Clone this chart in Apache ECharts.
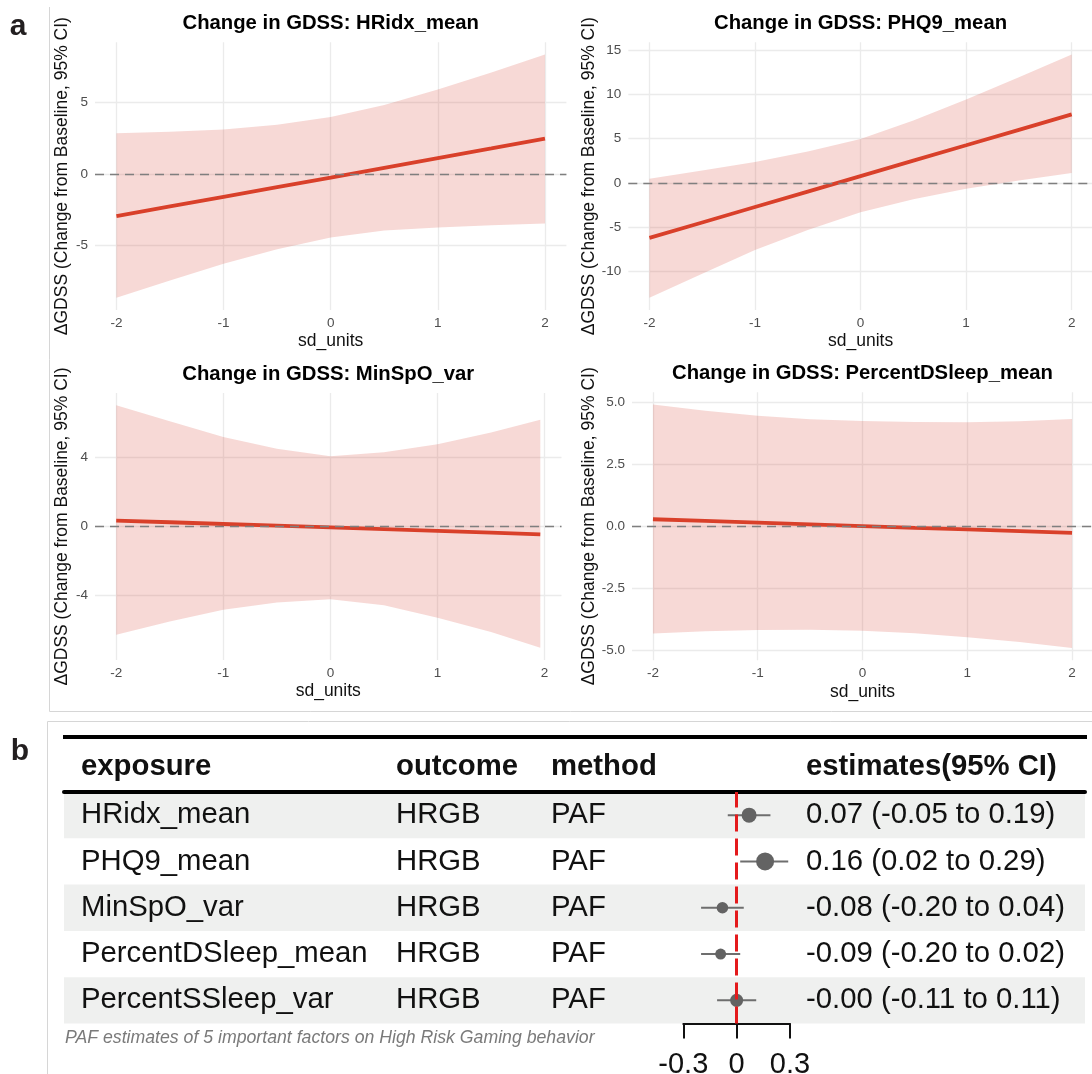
<!DOCTYPE html>
<html>
<head>
<meta charset="utf-8">
<script src="https://cdn.jsdelivr.net/npm/echarts@6/dist/echarts.min.js"></script>
<style>
html,body{margin:0;padding:0;background:#fff;}
#chart{width:1092px;height:1074px;}
</style>
</head>
<body>
<div id="chart"></div>
<script>
// ---------------- DATA ----------------
// panel a: predicted change in GDSS per sd unit, with 95% CI ribbon
const sdUnits = [-2, -1.5, -1, -0.5, 0, 0.5, 1, 1.5, 2];
const sdUnitsMinSpO = [-2, -1.5, -1, -0.5, 0, 0.5, 1, 1.5, 1.96];

const hrFit = [-2.95, -2.27, -1.60, -0.93, -0.26, 0.42, 1.10, 1.77, 2.45];
const hrLo  = [-8.63, -7.42, -6.25, -5.25, -4.43, -3.95, -3.73, -3.57, -3.46];
const hrHi  = [2.83, 2.93, 3.08, 3.42, 3.96, 4.80, 5.88, 7.05, 8.31];

const phqFit = [-6.24, -4.49, -2.74, -0.99, 0.76, 2.51, 4.25, 6.00, 7.75];
const phqLo  = [-13.02, -10.30, -7.60, -5.35, -3.33, -1.85, -0.68, 0.25, 1.10];
const phqHi  = [0.45, 1.40, 2.35, 3.55, 4.96, 7.05, 9.42, 11.95, 14.53];

const minFit = [0.35, 0.25, 0.15, 0.05, -0.05, -0.15, -0.25, -0.35, -0.45];
const minLo  = [-6.26, -5.50, -4.81, -4.40, -4.20, -4.55, -5.27, -6.10, -7.02];
const minHi  = [7.03, 6.10, 5.19, 4.50, 4.07, 4.30, 4.77, 5.45, 6.18];

const pdsFit = [0.30, 0.23, 0.16, 0.09, 0.02, -0.05, -0.11, -0.18, -0.25];
const pdsLo  = [-4.31, -4.22, -4.17, -4.16, -4.20, -4.30, -4.46, -4.65, -4.90];
const pdsHi  = [4.93, 4.68, 4.48, 4.33, 4.26, 4.22, 4.21, 4.25, 4.34];

const panelTitles = ['Change in GDSS: HRidx_mean', 'Change in GDSS: PHQ9_mean',
                     'Change in GDSS: MinSpO_var', 'Change in GDSS: PercentDSleep_mean'];
const xTicks = [-2, -1, 0, 1, 2];
const yTicksHR = [-5, 0, 5];
const yTicksPHQ = [-10, -5, 0, 5, 10, 15];
const yTicksMin = [-4, 0, 4];
const yTicksPDS = [-5, -2.5, 0, 2.5, 5];
const xAxisTitle = 'sd_units';
const yAxisTitle = 'ΔGDSS (Change from Baseline, 95% CI)';

// panel b: PAF forest table
const exposures = ['HRidx_mean', 'PHQ9_mean', 'MinSpO_var', 'PercentDSleep_mean', 'PercentSSleep_var'];
const outcomes = ['HRGB', 'HRGB', 'HRGB', 'HRGB', 'HRGB'];
const methods = ['PAF', 'PAF', 'PAF', 'PAF', 'PAF'];
const pafEst = [0.07, 0.16, -0.08, -0.09, -0.00];
const pafLo = [-0.05, 0.02, -0.20, -0.20, -0.11];
const pafHi = [0.19, 0.29, 0.04, 0.02, 0.11];
const pafWeight = [1.0, 1.2, 0.77, 0.73, 0.87];
const estLabels = ['0.07 (-0.05 to 0.19)', '0.16 (0.02 to 0.29)', '-0.08 (-0.20 to 0.04)',
                   '-0.09 (-0.20 to 0.02)', '-0.00 (-0.11 to 0.11)'];
const tableHeaders = ['exposure', 'outcome', 'method', 'estimates(95% CI)'];
const forestTicks = [-0.3, 0, 0.3];
const caption = 'PAF estimates of 5 important factors on High Risk Gaming behavior';

// ---------------- STYLE / LAYOUT ----------------
const FONT = 'Liberation Sans, Arial, Helvetica, sans-serif';
const LINE_COLOR = '#d9402a';
const RIBBON_COLOR = 'rgba(215,65,50,0.2)';
const GRID_COLOR = '#ebebeb';

const panelGrids = [
  {left: 95, top: 42.3, width: 471.4, height: 267.7},
  {left: 628.3, top: 42.3, width: 464.5, height: 267.7},
  {left: 95, top: 393, width: 466.5, height: 267},
  {left: 632, top: 392.3, width: 461, height: 268}
];
const tableGrid = {left: 64, top: 792, width: 1021, height: 231.5};
const forestGrid = {left: 683.3, top: 792, width: 106.7, height: 231.5};
const colX = [81, 396, 551, 806];

const panels = [
  {xs: sdUnits, fit: hrFit, lo: hrLo, hi: hrHi, ticks: yTicksHR, dec: 0},
  {xs: sdUnits, fit: phqFit, lo: phqLo, hi: phqHi, ticks: yTicksPHQ, dec: 0},
  {xs: sdUnitsMinSpO, fit: minFit, lo: minLo, hi: minHi, ticks: yTicksMin, dec: 0},
  {xs: sdUnits, fit: pdsFit, lo: pdsLo, hi: pdsHi, ticks: yTicksPDS, dec: 1}
];

const expand = (lowSide) => function (v) {
  const r = v.max - v.min;
  return lowSide ? v.min - 0.05 * r : v.max + 0.05 * r;
};

const grids = [], xAxes = [], yAxes = [], series = [], graphics = [];

panels.forEach((p, i) => {
  grids.push(Object.assign({outerBoundsMode: 'none', containLabel: false}, panelGrids[i]));
  xAxes.push({
    type: 'value', gridIndex: i, min: expand(true), max: expand(false),
    axisLine: {show: false, onZero: false},
    axisTick: {show: false, customValues: xTicks},
    axisLabel: {customValues: xTicks, margin: 6, fontSize: 13.5, color: '#4d4d4d', fontFamily: FONT},
    splitLine: {show: true, lineStyle: {color: GRID_COLOR, width: 1.3}},
    name: xAxisTitle, nameLocation: 'middle', nameGap: 22.5,
    nameTextStyle: {fontSize: 17.5, color: '#111', fontFamily: FONT}
  });
  yAxes.push({
    type: 'value', gridIndex: i, min: expand(true), max: expand(false),
    axisLine: {show: false, onZero: false},
    axisTick: {show: false, customValues: p.ticks},
    axisLabel: {customValues: p.ticks, margin: 7, fontSize: 13.5, color: '#4d4d4d', fontFamily: FONT,
                formatter: (v) => p.dec ? Number(v).toFixed(p.dec) : String(v)},
    splitLine: {show: true, lineStyle: {color: GRID_COLOR, width: 1.3}},
    name: yAxisTitle, nameLocation: 'middle', nameGap: 23.5,
    nameTextStyle: {fontSize: 17.5, color: '#111', fontFamily: FONT}
  });
  const xs = p.xs, lo = p.lo, hi = p.hi;
  series.push({
    type: 'custom', xAxisIndex: i, yAxisIndex: i, silent: true, z: 1,
    data: xs.map((x, k) => [x, lo[k], hi[k]]),
    encode: {x: 0, y: [1, 2]},
    renderItem: function (params, api) {
      if (params.dataIndex !== 0) return;
      const pts = [];
      for (let k = 0; k < xs.length; k++) pts.push(api.coord([xs[k], hi[k]]));
      for (let k = xs.length - 1; k >= 0; k--) pts.push(api.coord([xs[k], lo[k]]));
      return {type: 'polygon', shape: {points: pts}, style: {fill: RIBBON_COLOR}};
    }
  });
  series.push({
    type: 'line', xAxisIndex: i, yAxisIndex: i, silent: true, z: 2,
    data: xs.map((x, k) => [x, p.fit[k]]),
    showSymbol: false, symbol: 'none',
    lineStyle: {color: LINE_COLOR, width: 3.8}
  });
  series.push({
    type: 'line', xAxisIndex: i, yAxisIndex: i, silent: true, z: 5,
    data: xs.map((x, k) => [x, p.fit[k]]),
    showSymbol: false, symbol: 'none', lineStyle: {opacity: 0},
    markLine: {silent: true, symbol: ['none', 'none'], label: {show: false},
               lineStyle: {color: '#7f7f7f', width: 1.3, type: [9, 6]},
               data: [{yAxis: 0}]}
  });
  const g = panelGrids[i];
  graphics.push({type: 'text', x: g.left + g.width / 2, y: g.top - 19, z: 10,
    style: {text: panelTitles[i], textAlign: 'center', textVerticalAlign: 'middle',
            font: 'bold 20.3px ' + FONT, fill: '#000'}});
});

// ---- table grid (index 4)
grids.push(Object.assign({outerBoundsMode: 'none', containLabel: false}, tableGrid));
xAxes.push({
  type: 'value', gridIndex: 4, min: 0, max: 1, position: 'top',
  axisLine: {show: true, onZero: false, lineStyle: {color: '#000', width: 4}},
  axisTick: {show: false}, axisLabel: {show: false}, splitLine: {show: false}
});
const tableCols = [exposures, outcomes, methods, estLabels];
tableCols.forEach((col, c) => {
  yAxes.push({
    type: 'category', gridIndex: 4, position: 'left',
    offset: -(colX[c] - tableGrid.left),
    data: col.slice().reverse(),
    axisLine: {show: false, onZero: false}, axisTick: {show: false},
    axisLabel: {interval: 0, align: 'left', margin: 0, fontSize: 29.3, color: '#111', fontFamily: FONT},
    splitLine: {show: false},
    splitArea: c === 0 ? {show: true, interval: 0, areaStyle: {color: ['#eff0ef', 'rgba(255,255,255,0)']}} : {show: false},
    name: tableHeaders[c], nameLocation: 'end', nameGap: 25.5,
    nameTextStyle: {align: 'left', verticalAlign: 'middle', fontSize: 29.3, fontWeight: 'bold',
                    color: '#111', fontFamily: FONT}
  });
});

// ---- forest grid (index 5)
grids.push(Object.assign({outerBoundsMode: 'none', containLabel: false}, forestGrid));
xAxes.push({
  type: 'value', gridIndex: 5, min: forestTicks[0], max: forestTicks[forestTicks.length - 1],
  interval: 0.3, position: 'bottom',
  axisLine: {show: true, onZero: false, lineStyle: {color: '#111', width: 2}},
  axisTick: {show: true, length: 15, lineStyle: {color: '#111', width: 2}},
  axisLabel: {margin: 27, fontSize: 29, color: '#111', fontFamily: FONT,
              formatter: (v) => String(Math.round(v * 10) / 10)},
  splitLine: {show: false}
});
yAxes.push({
  type: 'category', gridIndex: 5, show: false, data: exposures.slice().reverse(),
  axisLine: {onZero: false}
});
const fxi = xAxes.length - 1, fyi = yAxes.length - 1;
series.push({
  type: 'custom', xAxisIndex: fxi, yAxisIndex: fyi, silent: true, z: 2,
  data: exposures.map((e, k) => [pafLo[k], pafHi[k], e]),
  encode: {x: [0, 1], y: 2},
  renderItem: function (params, api) {
    const a = api.coord([api.value(0), api.value(2)]);
    const b = api.coord([api.value(1), api.value(2)]);
    return {type: 'line', shape: {x1: a[0], y1: a[1], x2: b[0], y2: b[1]},
            style: {stroke: '#6e6e6e', lineWidth: 2}};
  }
});
series.push({
  type: 'line', xAxisIndex: fxi, yAxisIndex: fyi, silent: true, z: 3,
  data: exposures.map((e, k) => [pafEst[k], e]),
  showSymbol: false, symbol: 'none', lineStyle: {opacity: 0},
  markLine: {silent: true, symbol: ['none', 'none'], label: {show: false},
             lineStyle: {color: '#e41a1c', width: 3, type: [17, 7]},
             data: [{xAxis: 0}]}
});
series.push({
  type: 'scatter', xAxisIndex: fxi, yAxisIndex: fyi, silent: true, z: 4,
  data: exposures.map((e, k) => [pafEst[k], e, pafWeight[k]]),
  symbol: 'circle', symbolSize: (d) => 15 * d[2],
  itemStyle: {color: '#636363', opacity: 1}
});

// ---- decorations
graphics.push({type: 'polyline', z: 0, shape: {points: [[49.5, 7], [49.5, 711.5], [1092, 711.5]]},
               style: {stroke: '#d6d6d6', lineWidth: 1, fill: null}});
graphics.push({type: 'polyline', z: 0, shape: {points: [[47.5, 1074], [47.5, 721.5], [1092, 721.5]]},
               style: {stroke: '#d6d6d6', lineWidth: 1, fill: null}});
graphics.push({type: 'line', z: 10, shape: {x1: 63, y1: 737, x2: 1087, y2: 737},
               style: {stroke: '#000', lineWidth: 4}});
graphics.push({type: 'text', x: 18, y: 27, z: 10,
  style: {text: 'a', textAlign: 'center', textVerticalAlign: 'middle', font: 'bold 30px ' + FONT, fill: '#231f20'}});
graphics.push({type: 'text', x: 20, y: 752, z: 10,
  style: {text: 'b', textAlign: 'center', textVerticalAlign: 'middle', font: 'bold 30px ' + FONT, fill: '#231f20'}});
graphics.push({type: 'text', x: 65, y: 1038, z: 10,
  style: {text: caption, textAlign: 'left', textVerticalAlign: 'middle', font: 'italic 17.7px ' + FONT, fill: '#7a7a7a'}});

const chart = echarts.init(document.getElementById('chart'), null, {renderer: 'canvas'});
chart.setOption({
  animation: false,
  backgroundColor: '#ffffff',
  textStyle: {fontFamily: FONT},
  grid: grids,
  xAxis: xAxes,
  yAxis: yAxes,
  series: series,
  graphic: {elements: graphics}
});
</script>
</body>
</html>
